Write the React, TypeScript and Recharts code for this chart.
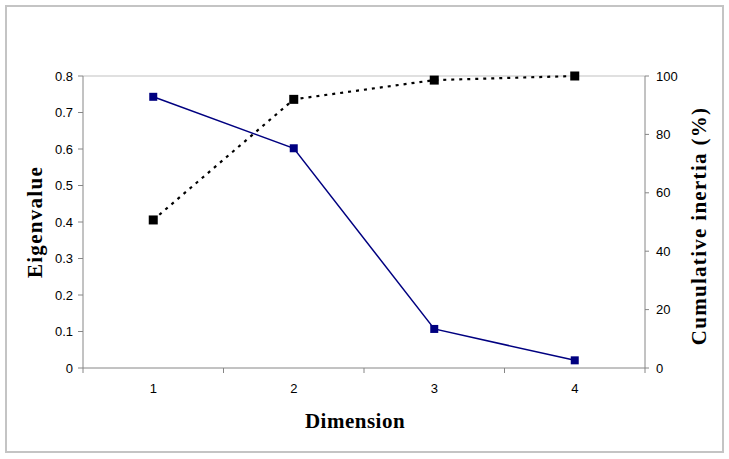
import React from "react";
import { LineChart, Line, XAxis, YAxis, ReferenceLine } from "recharts";

const dimensions = [1, 2, 3, 4];
const eigenvalues = [0.743, 0.602, 0.107, 0.021];
const cumulativeInertia = [50.7, 92.0, 98.6, 100];

const xTicks = [0.5, 1, 1.5, 2, 2.5, 3, 3.5, 4, 4.5];
const eigenTicks = [0, 0.1, 0.2, 0.3, 0.4, 0.5, 0.6, 0.7, 0.8];
const inertiaTicks = [0, 20, 40, 60, 80, 100];

const data = dimensions.map((d, i) => ({
  dim: d,
  eigen: eigenvalues[i],
  cum: cumulativeInertia[i],
}));

const AXIS = "#868686";
const NAVY = "#000080";
const TICK_FONT = "Arial, 'Liberation Sans', sans-serif";
const TITLE_FONT = "'Times New Roman', 'Liberation Serif', serif";

const tickStyle = { fontSize: 13, fill: "#000", fontFamily: TICK_FONT };

// square markers like the spreadsheet ones
const squareDot = (color: string, size: number) => (props: any) => {
  const { cx, cy, index } = props;
  if (cx == null || cy == null) return <g key={index} />;
  return (
    <rect
      key={index}
      x={cx - size / 2}
      y={cy - size / 2}
      width={size}
      height={size}
      fill={color}
    />
  );
};

// half values get a tick mark (category borders), whole values get the label
function DimTick(props: any) {
  const { x, y, payload } = props;
  const v = payload.value;
  if (v % 1 !== 0) {
    return <line x1={x} y1={y} x2={x} y2={y + 5} stroke={AXIS} />;
  }
  return (
    <text x={x} y={y + 25} textAnchor="middle" {...tickStyle}>
      {v}
    </text>
  );
}

const titleStyle: React.CSSProperties = {
  position: "absolute",
  fontFamily: TITLE_FONT,
  fontWeight: "bold",
  fontSize: 21,
  lineHeight: 1,
  whiteSpace: "nowrap",
  color: "#000",
};

export default function App() {
  return (
    <div
      style={{
        position: "absolute",
        left: 0,
        top: 0,
        width: 729,
        height: 459,
        background: "#fff",
      }}
    >
      <div
        style={{
          position: "absolute",
          left: 5,
          top: 5,
          width: 719,
          height: 448,
          border: "2px solid #c4c4c4",
          boxSizing: "border-box",
        }}
      />
      <div style={{ position: "absolute", left: 0, top: 0 }}>
        <LineChart
          width={729}
          height={459}
          data={data}
          margin={{ top: 76, right: 0, bottom: 61, left: 0 }}
        >
          <XAxis
            dataKey="dim"
            type="number"
            domain={[0.5, 4.5]}
            ticks={xTicks}
            interval={0}
            height={30}
            tickSize={0}
            tickMargin={0}
            tickLine={false}
            axisLine={{ stroke: AXIS }}
            tick={<DimTick />}
          />
          <YAxis
            yAxisId="left"
            width={83}
            domain={[0, 0.8]}
            ticks={eigenTicks}
            interval={0}
            tickSize={5}
            tickMargin={5}
            axisLine={{ stroke: AXIS }}
            tickLine={{ stroke: AXIS }}
            tick={tickStyle}
            tickFormatter={(v: number) => (v === 0 ? "0" : v.toFixed(1))}
          />
          <YAxis
            yAxisId="right"
            orientation="right"
            width={84}
            domain={[0, 100]}
            ticks={inertiaTicks}
            interval={0}
            tickSize={4}
            tickMargin={7}
            axisLine={{ stroke: AXIS }}
            tickLine={{ stroke: AXIS }}
            tick={tickStyle}
          />
          <ReferenceLine yAxisId="left" y={0.8} stroke="#d6d6d6" strokeWidth={1.5} />
          <Line
            yAxisId="right"
            dataKey="cum"
            stroke="#000"
            strokeWidth={2.2}
            strokeDasharray="3 5"
            dot={squareDot("#000", 9)}
            activeDot={false}
            isAnimationActive={false}
          />
          <Line
            yAxisId="left"
            dataKey="eigen"
            stroke={NAVY}
            strokeWidth={1.5}
            dot={squareDot(NAVY, 8)}
            activeDot={false}
            isAnimationActive={false}
          />
        </LineChart>
      </div>
      <div
        style={{
          ...titleStyle,
          left: 35,
          top: 222,
          letterSpacing: 1.3,
          transform: "translate(-50%, -50%) rotate(-90deg)",
        }}
      >
        Eigenvalue
      </div>
      <div
        style={{
          ...titleStyle,
          left: 699,
          top: 226,
          letterSpacing: 1.3,
          transform: "translate(-50%, -50%) rotate(-90deg)",
        }}
      >
        Cumulative inertia (%)
      </div>
      <div
        style={{
          ...titleStyle,
          left: 355,
          top: 421,
          letterSpacing: 0.5,
          transform: "translate(-50%, -50%)",
        }}
      >
        Dimension
      </div>
    </div>
  );
}
